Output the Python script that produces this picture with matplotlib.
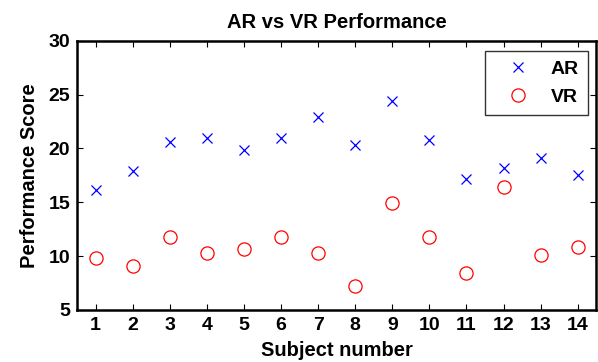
import numpy as np
import matplotlib
matplotlib.use("Agg")
import matplotlib.pyplot as plt

subjects = np.arange(1, 15)
ar_scores = [16.1, 17.9, 20.6, 21.0, 19.9, 21.0, 22.9, 20.3, 24.4, 20.8, 17.2, 18.2, 19.1, 17.5]
vr_scores = [9.8, 9.1, 11.8, 10.3, 10.7, 11.8, 10.3, 7.2, 14.9, 11.8, 8.4, 16.4, 10.1, 10.8]

plt.rcParams['font.family'] = ['Liberation Sans', 'DejaVu Sans']
plt.rcParams['font.weight'] = 'bold'

fig = plt.figure(figsize=(5.98, 3.62), dpi=100)
ax = fig.add_axes([0.129, 0.144, 0.868, 0.743])

ax.plot(subjects, ar_scores, 'x', color='blue', markersize=7, markeredgewidth=0.9, label='AR')
ax.plot(subjects, vr_scores, 'o', color='red', markerfacecolor='none', markersize=9.5,
        markeredgewidth=0.9, label='VR')

ax.set_xlim(0.5, 14.5)
ax.set_ylim(5, 30)
ax.set_xticks(subjects)
ax.set_yticks([5, 10, 15, 20, 25, 30])
ax.tick_params(direction='in', top=True, right=True, length=4, width=0.8, labelsize=14, pad=5)
for lbl in ax.get_xticklabels() + ax.get_yticklabels():
    lbl.set_fontweight('bold')
for s in ax.spines.values():
    s.set_linewidth(1.8)

ax.set_title('AR vs VR Performance', fontsize=14.5, fontweight='bold', pad=9)
ax.set_xlabel('Subject number', fontsize=14.5, fontweight='bold', labelpad=5)
ax.set_ylabel('Performance Score', fontsize=14.5, fontweight='bold', labelpad=7)

leg = ax.legend(loc='upper right', fontsize=14, frameon=True, fancybox=False, edgecolor='black',
                borderpad=0.5, labelspacing=0.5, handlelength=2.4, handletextpad=0.45,
                borderaxespad=0, bbox_to_anchor=(0.985, 0.963))
leg.get_frame().set_linewidth(1.0)
for t in leg.get_texts():
    t.set_fontweight('bold')

fig.savefig('out.png', dpi=100)
